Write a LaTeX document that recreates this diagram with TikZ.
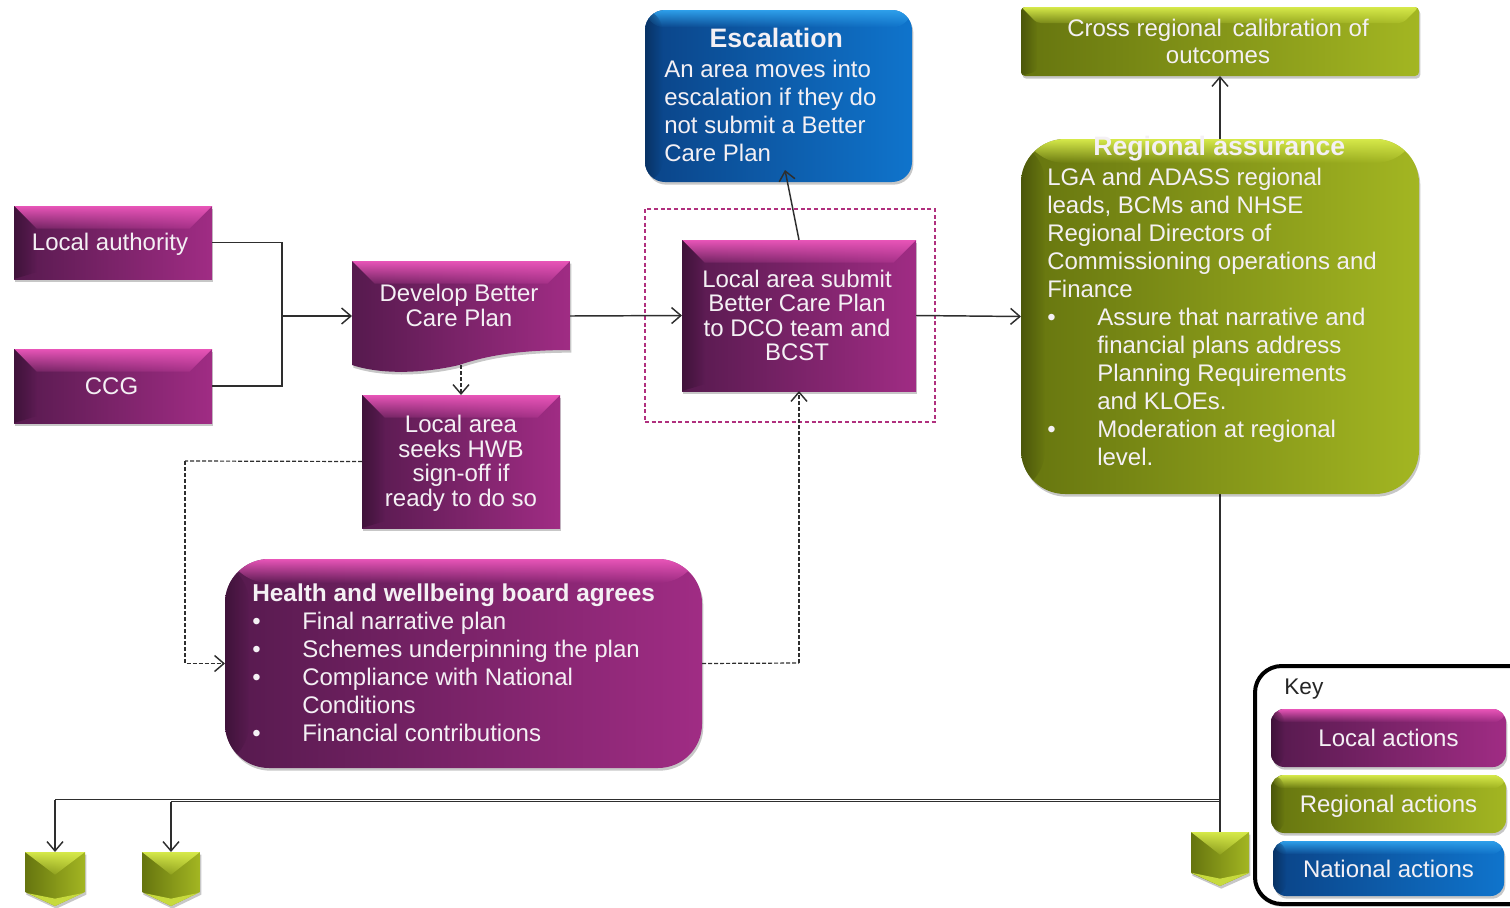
\documentclass[tikz,border=0pt]{standalone}
\usepackage{fontspec}
\setmainfont{Liberation Sans}
\usetikzlibrary{arrows.meta,shadows,calc,fadings}
\definecolor{magD}{HTML}{561A4E}
\definecolor{magR}{HTML}{A02C84}
\definecolor{magT}{HTML}{E855B8}
\definecolor{olvD}{HTML}{66750F}
\definecolor{olvR}{HTML}{A3B622}
\definecolor{olvT}{HTML}{D6E94A}
\definecolor{bluD}{HTML}{0B4488}
\definecolor{bluR}{HTML}{0F74CC}
\definecolor{bluT}{HTML}{2E9FEA}
\definecolor{txtW}{HTML}{F4F0F4}
\definecolor{lineK}{HTML}{2E2E2E}
\definecolor{frameM}{HTML}{B0307E}
\newcommand{\bul}{\makebox[37.5pt][l]{•}}
\newcommand{\ind}{\hspace*{37.5pt}}
\newcommand{\lowstrut}{\rule{0pt}{16pt}}
\tikzfading[name=bevfade,top color=transparent!0,bottom color=transparent!85]
\tikzfading[name=softfade,top color=transparent!0,bottom color=transparent!100]
\tikzfading[name=leftfade,left color=transparent!15,right color=transparent!100]
\tikzset{
  x=0.75pt,y=-0.75pt,
  boxsize/.style 2 args={minimum width=#1*0.75pt,minimum height=#2*0.75pt,inner sep=0pt,outer sep=0pt},
  softshadow/.style={drop shadow={shadow xshift=1pt,shadow yshift=-2pt,fill=black,opacity=.22}},
  bevelbox/.style n args={4}{softshadow,path picture={
    \shade[left color=#1,right color=#2] (path picture bounding box.south west) rectangle (path picture bounding box.north east);
    \fill[#3,path fading=bevfade,fit fading=true]
      (path picture bounding box.north west) -- (path picture bounding box.north east)
      -- ([xshift=-#4,yshift=-#4]path picture bounding box.north east)
      -- ([xshift=#4,yshift=-#4]path picture bounding box.north west) -- cycle;
    \fill[#1!70!black,path fading=leftfade,fit fading=true]
      (path picture bounding box.north west) -- ([xshift=#4,yshift=-#4]path picture bounding box.north west)
      -- ([xshift=#4,yshift=#4*.3]path picture bounding box.south west)
      -- (path picture bounding box.south west) -- cycle;
  }},
  softbox/.style n args={4}{softshadow,path picture={
    \shade[left color=#1,right color=#2] (path picture bounding box.south west) rectangle (path picture bounding box.north east);
    \fill[#3,path fading=softfade,fit fading=true]
      (path picture bounding box.north west) rectangle ([yshift=-#4]path picture bounding box.north east);
    \fill[#1!70!black,path fading=leftfade,fit fading=true]
      (path picture bounding box.north west) rectangle ([xshift=#4]path picture bounding box.south west);
  }},
  magbox/.style={bevelbox={magD}{magR}{magT}{#1}},
  olvbox/.style={bevelbox={olvD}{olvR}{olvT}{#1}},
  blubox/.style={bevelbox={bluD}{bluR}{bluT}{#1}},
  boxtext/.style={text=txtW,font=\fontsize{18}{21}\selectfont,align=center,inner sep=0pt},
  tighttext/.style={text=txtW,font=\fontsize{18}{18.45}\selectfont,align=center,inner sep=0pt},
  bodytext/.style={text=txtW,font=\fontsize{18}{21}\selectfont,align=left,inner sep=0pt},
  chev/.style={softshadow,path picture={
    \shade[left color=olvD,right color=olvR] (path picture bounding box.south west) rectangle (path picture bounding box.north east);
    \fill[olvT,path fading=bevfade,fit fading=true]
      (path picture bounding box.north west) -- (path picture bounding box.north east)
      -- ([yshift=-17pt]path picture bounding box.north) -- cycle;
    \fill[olvT!70!olvR]
      ([yshift=10pt]path picture bounding box.south west) -- (path picture bounding box.south)
      -- ([yshift=10pt]path picture bounding box.south east) -- ([yshift=5.5pt]path picture bounding box.south) -- cycle;
  }},
  conn/.style={draw=lineK,line width=1.1pt},
  arrowtip/.style={-{Straight Barb[length=7pt,width=12pt,line width=1.1pt]}},
  dashline/.style={draw=lineK,line width=.9pt,dash pattern=on 3pt off 1.5pt},
}
\begin{document}
\begin{tikzpicture}
\useasboundingbox (0,0) rectangle (1510,907);

% dashed frame
\node[boxsize={290}{213},draw=frameM,line width=1pt,dash pattern=on 3pt off 2pt] (frame) at (790,315.5) {};

% named free ends
\coordinate (jn) at (282,316);
\coordinate (devw) at (352,316);
\coordinate (deve) at (570,316);
\coordinate (devb) at (461,365);
\coordinate (esctip) at (785,170);
\coordinate (turn1) at (185,461);
\coordinate (turn2) at (799,663);
\coordinate (bus) at (1220,799.5);
\coordinate (busb) at (1220,801.5);
\coordinate (bus1) at (171,801.5);
\coordinate (bus0) at (55,799.5);
\coordinate (ch1) at (55,852);
\coordinate (ch2) at (171,852);
\coordinate (ch3) at (1220,832);

% connectors (below the boxes)
\draw[conn] (1220,494) -- (ch3);
\draw[conn] (bus) -- (bus0);
\draw[conn] (busb) -- (bus1);
\draw[conn,arrowtip] (bus0) -- (ch1);
\draw[conn,arrowtip] (bus1) -- (ch2);

% boxes
\node[boxsize={198}{73},magbox=17pt,boxtext] (la) at (113,242.5) {\hspace*{-4.5pt}\lowstrut Local authority};
\node[boxsize={198}{74},magbox=17pt,boxtext] (ccg) at (113,386) {\hspace*{-2.2pt}CCG};

\path[softshadow,path picture={
    \shade[left color=magD,right color=magR] (path picture bounding box.south west) rectangle (path picture bounding box.north east);
    \fill[magT,path fading=bevfade,fit fading=true]
      (path picture bounding box.north west) -- (path picture bounding box.north east)
      -- ([xshift=-17pt,yshift=-17pt]path picture bounding box.north east)
      -- ([xshift=17pt,yshift=-17pt]path picture bounding box.north west) -- cycle;
  }] (352,261) -- (570,261) -- (570,350)
  .. controls (510,350) and (480,358) .. (459,365)
  .. controls (430,372) and (385,376) .. (352,365) -- cycle;
\node[tighttext] (dev) at (459,305.5) {Develop Better\\Care Plan};

\node[boxsize={198}{133},magbox=17pt,tighttext] (seek) at (461,461.5)
  {\lowstrut Local area\\seeks HWB\\sign-off if\\ready to do so};
\node[boxsize={234}{151},magbox=17pt,tighttext] (submit) at (799,315.5)
  {\hspace*{-3pt}Local area submit\\\hspace*{-3pt}Better Care Plan\\\hspace*{-3pt}to DCO team and\\\hspace*{-3pt}BCST};

\node[boxsize={267}{172},rounded corners=15pt,softbox={bluD}{bluR}{bluT}{13pt}] (esc) at (778.5,96) {};
\node[anchor=north west,bodytext] (esct) at (664,27.5) {\makebox[168pt][c]{\fontsize{20}{21}\selectfont\bfseries Escalation}\\[1.5pt]An area moves into\\escalation if they do\\not submit a Better\\Care Plan};

\node[boxsize={398}{69},rounded corners=3pt,olvbox=12pt,text=txtW,font=\fontsize{18}{20.25}\selectfont,align=center,inner sep=0pt] (cross) at (1220,41.5)
  {\hspace*{-3pt}Cross regional\, calibration of\\\hspace*{-3pt}outcomes};

\node[boxsize={398}{355},rounded corners=33pt,softbox={olvD}{olvR}{olvT}{18pt}] (reg) at (1220,316.5) {};
\node[anchor=north west,bodytext] (regt) at (1047,136) {\makebox[258pt][c]{\fontsize{20}{21}\selectfont\bfseries Regional assurance}\\[1.5pt]LGA and ADASS regional\\leads, BCMs and NHSE\\Regional Directors of\\Commissioning operations and\\Finance\\\bul Assure that narrative and\\\ind financial plans address\\\ind Planning Requirements\\\ind and KLOEs.\\\bul Moderation at regional\\\ind level.};

\node[boxsize={477}{209},rounded corners=33pt,softbox={magD}{magR}{magT}{18pt}] (hwb) at (463.5,663.5) {};
\node[anchor=north west,bodytext] (hwbt) at (252,583.5) {{\fontsize{18.3}{21}\selectfont\bfseries Health and wellbeing board agrees}\\\bul Final narrative plan\\\bul Schemes underpinning the plan\\\bul Compliance with National\\\ind Conditions\\\bul Financial contributions};

% chevrons
\path[chev] (25,852) -- (85,852) -- (85,892) -- (55,906) -- (25,892) -- cycle;
\path[chev] (142,852) -- (200,852) -- (200,892) -- (171,906) -- (142,892) -- cycle;
\path[chev] (1191,832) -- (1249,832) -- (1249,873) -- (1220,886) -- (1191,873) -- cycle;

% key
\node[boxsize={290}{238},rounded corners=20pt,draw=black,line width=3pt,fill=white,drop shadow={shadow xshift=0pt,shadow yshift=-2pt,fill=black,opacity=.2}] (key) at (1400,785) {};
\node[anchor=west,text=black!85,font=\fontsize{17}{21}\selectfont,inner sep=0pt] (keyt) at (1284,689) {Key};
\node[boxsize={235}{58},rounded corners=10pt,softbox={magD}{magR}{magT}{10pt},boxtext] (k1) at (1388.5,738) {Local actions};
\node[boxsize={235}{58},rounded corners=10pt,softbox={olvD}{olvR}{olvT}{10pt},boxtext] (k2) at (1388.5,804) {\lowstrut Regional actions};
\node[boxsize={231}{55},rounded corners=10pt,softbox={bluD}{bluR}{bluT}{10pt},boxtext] (k3) at (1388.5,868.5) {National actions};

% connectors
\draw[conn] (la.east) -| (jn);
\draw[conn] (ccg.east) -| (jn);
\draw[conn,arrowtip] (jn) -- (devw);
\draw[conn,arrowtip] (deve) -- (submit.west);
\draw[conn,arrowtip] (submit.east) -- (reg.west);
\draw[conn,arrowtip] (submit.north) -- (esctip);
\draw[conn,arrowtip] (reg.north) -- (cross.south);
\draw[dashline,arrowtip] (devb) -- (seek.north);
\draw[dashline] (seek.west) -- (turn1);
\draw[dashline,arrowtip] (turn1) |- (hwb.west);
\draw[dashline] (hwb.east) -- (turn2);
\draw[dashline,arrowtip] (turn2) -- (submit.south);
\end{tikzpicture}
\end{document}
